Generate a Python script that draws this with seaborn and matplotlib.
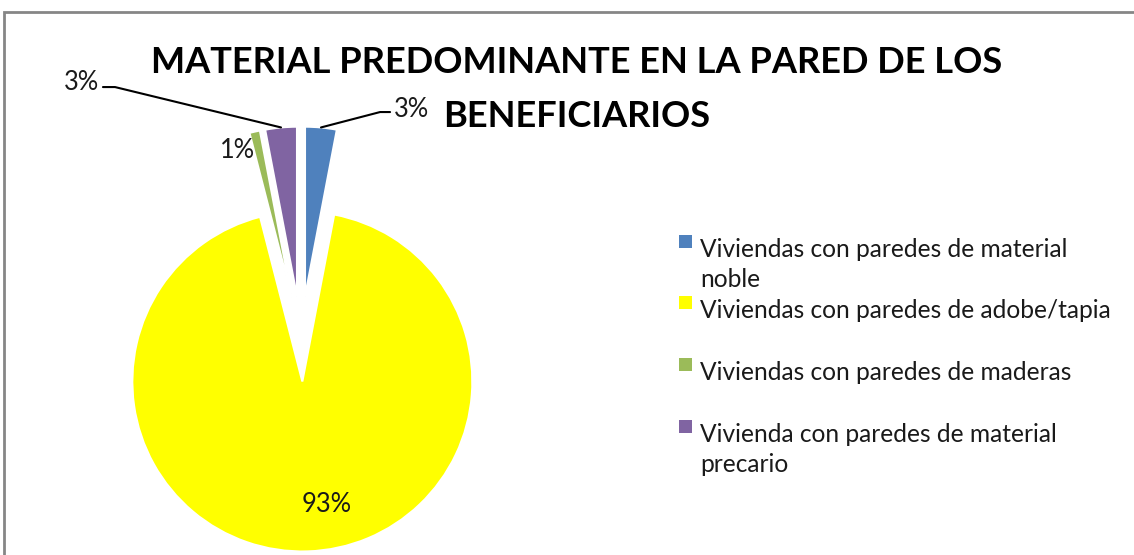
import matplotlib
matplotlib.use("Agg")
import matplotlib.pyplot as plt
import matplotlib.patches as mpatches
import numpy as np
import seaborn as sns

# data (percent of beneficiaries)
categorias = [
    "Viviendas con paredes de material\nnoble",
    "Viviendas con paredes de adobe/tapia",
    "Viviendas con paredes de maderas",
    "Vivienda con paredes de material\nprecario",
]
porcentajes = [3, 93, 1, 3]
colores = ["#4F81BD", "#FFFF00", "#9BBB59", "#8064A2"]
titulo = ["MATERIAL PREDOMINANTE EN LA PARED DE LOS", "BENEFICIARIOS"]

sns.set_theme(style="white")
plt.rcParams["font.family"] = ["Lato", "DejaVu Sans"]
palette = sns.color_palette(colores)

W, H = 1134, 555
fig = plt.figure(figsize=(W / 100, H / 100), dpi=100)
fig.patch.set_facecolor("white")
renderer = fig.canvas.get_renderer()


def fit_width(txt, target):
    # scale the font so the text is as wide as in the reference
    bb = txt.get_window_extent(renderer)
    txt.set_fontsize(txt.get_fontsize() * target / bb.width)


# chart border
fig.patches.append(mpatches.Rectangle((4 / W, -0.05), 1.1, (H - 12) / H + 0.05,
                                      transform=fig.transFigure, fill=False,
                                      edgecolor="#868686", linewidth=2))

# pie axes: 1 data unit = 170 px, true centre at (301, 339) px from top-left
R = 170
cx, cy = 301, H - 339
ax = fig.add_axes([0, 0, 1, 1])

explode = [0.25] * len(porcentajes)
wedges, _ = ax.pie(porcentajes, colors=palette, startangle=90, counterclock=False,
                   explode=explode, radius=1,
                   wedgeprops=dict(edgecolor="white", linewidth=1.5))
# pie() resets the limits, so set them afterwards
ax.set_xlim(-cx / R, (W - cx) / R)
ax.set_ylim(-cy / R, (H - cy) / R)
ax.axis("off")

etiquetas = [f"{p / sum(porcentajes) * 100:.0f}%" for p in porcentajes]
lbl_fs = 18.5

# mid angle of each wedge (math convention)
mids = [np.deg2rad((w.theta1 + w.theta2) / 2) for w in wedges]

# blue slice: leader line to the right
a = mids[0]
p0 = (1.25 * np.cos(a), 1.25 * np.sin(a))
ax.plot([p0[0], 0.465, 0.524], [p0[1], 1.335, 1.335], color="black", lw=1.5)
lab_blue = ax.text(0.545, 1.35, etiquetas[0], ha="left", va="center")

# purple slice: leader line to the upper left
a = mids[3]
p0 = (1.25 * np.cos(a), 1.25 * np.sin(a))
ax.plot([p0[0], -1.094, -1.165], [p0[1], 1.482, 1.482], color="black", lw=1.5)
lab_purple = ax.text(-1.19, 1.51, etiquetas[3], ha="right", va="center")

# green slice label
lab_green = ax.text(-0.376, 1.106, etiquetas[2], ha="center", va="center")

# yellow slice label
lab_yellow = ax.text(0.153, -0.976, etiquetas[1], ha="center", va="center")

# title, two centred lines
t1 = fig.text(577 / W, 1 - 73 / H, titulo[0], ha="center", va="baseline",
              fontsize=25, fontweight="bold", color="black")
fit_width(t1, 855)
fig.text(577 / W, 1 - 127 / H, titulo[1], ha="center", va="baseline",
         fontsize=t1.get_fontsize(), fontweight="bold", color="black")

# legend drawn by hand so swatches sit on the first line of each entry
leg_y = [252, 313, 375, 437]
leg_texts = []
for i, (lab, col) in enumerate(zip(categorias, palette)):
    yb = leg_y[i]
    fig.patches.append(mpatches.Rectangle((679 / W, 1 - (yb - 4) / H), 13 / W, 13 / H,
                                          transform=fig.transFigure, facecolor=col,
                                          edgecolor="none"))
    t = fig.text(700 / W, 1 - yb / H, lab, ha="left", va="baseline",
                 fontsize=lbl_fs, color="#1a1a1a", linespacing=1.36)
    leg_texts.append(t)
fit_width(leg_texts[1], 413)
fs = leg_texts[1].get_fontsize()
for t in leg_texts:
    t.set_fontsize(fs)
    t.set_va("top")
    x, y = t.get_position()
    t.set_position((x, y + 0.8 * fs * 100 / 72 * 0.72 / H))
for t in (lab_blue, lab_purple, lab_green, lab_yellow):
    t.set_fontsize(fs * 1.04)
    t.set_color("#1a1a1a")

fig.savefig("out.png", dpi=100, facecolor="white")
